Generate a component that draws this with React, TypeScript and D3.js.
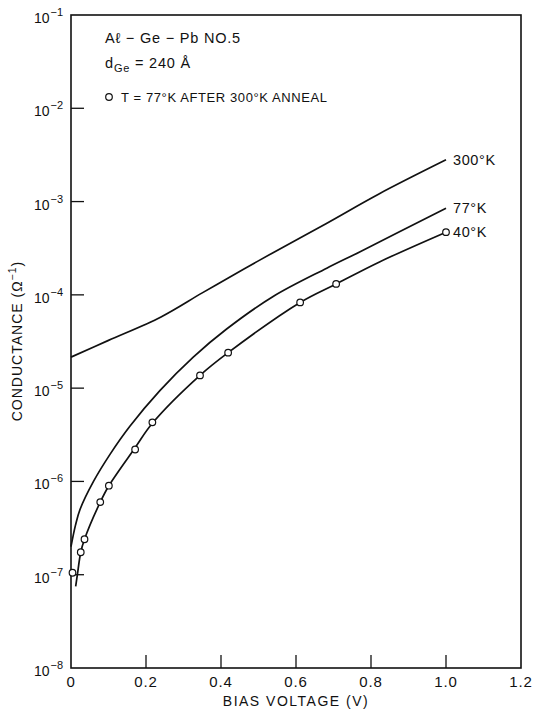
import * as d3 from "d3"

// curves (V, mho)
const v300 = [0, 0.1, 0.24, 0.35, 0.46, 0.54, 0.68, 0.82, 1.0]
const g300 = [2.15e-5, 3.25e-5, 5.8e-5, 1.05e-4, 1.88e-4, 2.85e-4, 5.8e-4, 1.2e-3, 2.8e-3]

const v77 = [0, 0.012, 0.024, 0.06, 0.104, 0.157, 0.237, 0.326, 0.415, 0.539, 0.682, 0.771, 1.0]
const g77 = [2.0e-7, 3.4e-7, 5.0e-7, 1.0e-6, 1.95e-6, 3.9e-6, 9.4e-6, 2.15e-5, 4.3e-5, 9.6e-5, 1.93e-4, 2.9e-4, 8.5e-4]

const v40 = [0.0125, 0.017, 0.026, 0.036, 0.078, 0.101, 0.171, 0.217, 0.344, 0.419, 0.611, 0.707, 0.824, 1.0]
const g40 = [7.5e-8, 1.0e-7, 1.74e-7, 2.4e-7, 6.0e-7, 9.0e-7, 2.3e-6, 4.2e-6, 1.37e-5, 2.4e-5, 8.3e-5, 1.31e-4, 2.27e-4, 4.7e-4]

// open circles: T = 77K after 300K anneal
const vAnneal = [0.004, 0.026, 0.036, 0.078, 0.101, 0.171, 0.217, 0.344, 0.419, 0.611, 0.707, 1.0]
const gAnneal = [1.05e-7, 1.74e-7, 2.4e-7, 6.0e-7, 9.0e-7, 2.2e-6, 4.3e-6, 1.37e-5, 2.4e-5, 8.3e-5, 1.31e-4, 4.7e-4]

const xTicks = [0, 0.2, 0.4, 0.6, 0.8, 1.0, 1.2]
const xTickLabels = ["0", "0.2", "0.4", "0.6", "0.8", "1.0", "1.2"]
const yExponents = [-1, -2, -3, -4, -5, -6, -7, -8]

const curveLabels = [
  { text: "300°K", v: 1.0, g: 2.8e-3 },
  { text: "77°K", v: 1.0, g: 8.5e-4 },
  { text: "40°K", v: 1.0, g: 4.7e-4 },
]

const width = 534
const height = 713
const margin = { top: 15, right: 13, bottom: 45, left: 71 }
const font = "'Liberation Sans', 'DejaVu Sans', sans-serif"

export default function App() {
  const x = d3.scaleLinear().domain([0, 1.2]).range([margin.left, width - margin.right])
  const y = d3.scaleLog().domain([1e-8, 1e-1]).range([height - margin.bottom, margin.top])

  const line = d3
    .line<[number, number]>()
    .x((d) => x(d[0]))
    .y((d) => y(d[1]))
    .curve(d3.curveCatmullRom.alpha(0.5))

  const series = [
    v300.map((v, i) => [v, g300[i]] as [number, number]),
    v77.map((v, i) => [v, g77[i]] as [number, number]),
    v40.map((v, i) => [v, g40[i]] as [number, number]),
  ]

  const [x0, x1] = x.range()
  const [yb, yt] = y.range()

  return (
    <svg
      width={width}
      height={height}
      style={{ position: "absolute", left: 0, top: 0, background: "#fff" }}
      fontFamily={font}
    >
      <rect x={x0} y={yt} width={x1 - x0} height={yb - yt} fill="none" stroke="#111" strokeWidth={1.6} />

      {xTicks.slice(1, -1).map((t) => (
        <line key={t} x1={x(t)} x2={x(t)} y1={yb} y2={yb - 13} stroke="#111" strokeWidth={1.3} />
      ))}
      {xTicks.map((t, i) => (
        <text key={t} x={x(t)} y={yb + 19} textAnchor="middle" fontSize={15} fill="#111" letterSpacing={0.8}>
          {xTickLabels[i]}
        </text>
      ))}

      {yExponents.slice(1, -1).map((e) => (
        <line key={e} x1={x0} x2={x0 + 13} y1={y(10 ** e)} y2={y(10 ** e)} stroke="#111" strokeWidth={1.3} />
      ))}
      {yExponents.map((e) => (
        <text key={e} x={63} y={y(10 ** e) + 8} textAnchor="end" fontSize={14} fill="#111">
          10
          <tspan fontSize={11} dy={-7} dx={1}>
            {"\u2212" + -e}
          </tspan>
        </text>
      ))}

      {series.map((s, i) => (
        <path key={i} d={line(s) ?? ""} fill="none" stroke="#111" strokeWidth={1.7} />
      ))}

      {vAnneal.map((v, i) => (
        <circle key={i} cx={x(v)} cy={y(gAnneal[i])} r={3.3} fill="#fff" stroke="#111" strokeWidth={1.2} />
      ))}

      {curveLabels.map((c) => (
        <text key={c.text} x={x(c.v) + 7} y={y(c.g) + 5} fontSize={14.5} fill="#111" letterSpacing={0.6}>
          {c.text}
        </text>
      ))}

      <text x={105} y={43} fontSize={14.5} fill="#111" letterSpacing={0.8}>
        {"A\u2113 \u2212 Ge \u2212 Pb  NO.5"}
      </text>
      <text x={105} y={68} fontSize={14.5} fill="#111" letterSpacing={0.8}>
        d<tspan fontSize={11} dy={4}>Ge</tspan>
        <tspan dy={-4}>{" = 240 \u00C5"}</tspan>
      </text>
      <circle cx={109} cy={97} r={3.3} fill="#fff" stroke="#111" strokeWidth={1.2} />
      <text x={121} y={102} fontSize={13} fill="#111" letterSpacing={0.6}>
        T = 77°K AFTER 300°K ANNEAL
      </text>

      <text x={(x0 + x1) / 2} y={706} textAnchor="middle" fontSize={14} fill="#111" letterSpacing={1.5}>
        BIAS VOLTAGE (V)
      </text>
      <text
        transform={`translate(22, ${341}) rotate(-90)`}
        textAnchor="middle"
        fontSize={14}
        fill="#111"
        letterSpacing={1}
      >
        CONDUCTANCE (Ω<tspan fontSize={10.5} dy={-6}>{"\u22121"}</tspan>
        <tspan dy={6}>)</tspan>
      </text>
    </svg>
  )
}
